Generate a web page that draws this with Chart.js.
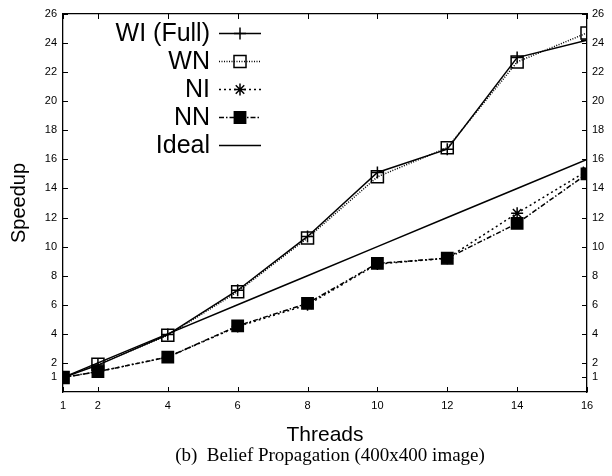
<!DOCTYPE html>
<html>
<head>
<meta charset="utf-8">
<script src="https://cdn.jsdelivr.net/npm/chart.js@4/dist/chart.umd.min.js"></script>
<style>
  html, body { margin: 0; padding: 0; background: #fff; }
  #wrap { position: relative; width: 612px; height: 476px; }
  #caption {
    position: absolute; left: 24px; width: 612px; top: 444px; white-space: pre;
    text-align: center; font-family: 'Liberation Serif', serif; font-size: 19px; color: #000;
  }
</style>
</head>
<body>
<div id="wrap">
  <canvas id="speedupChart"></canvas>
  <div id="caption">(b)  Belief Propagation (400x400 image)</div>
</div>
<script>
// thread counts and measured speedups
const threads = [1, 2, 4, 6, 8, 10, 12, 14, 16];
const wiFull = [1, 1.85, 3.95, 7.0, 10.7, 15.1, 16.7, 23.0, 24.2];
const wn = [1, 1.9, 3.9, 6.9, 10.6, 14.8, 16.8, 22.7, 24.7];
const ni = [1, 1.4, 2.4, 4.5, 6.0, 8.8, 9.2, 12.3, 15.2];
const nn = [1, 1.4, 2.4, 4.55, 6.1, 8.85, 9.2, 11.6, 15.0];
const ideal = [1, 2, 4, 6, 8, 10, 12, 14, 16];

const xTicks = [1, 2, 4, 6, 8, 10, 12, 14, 16];
const yTicks = [1, 2, 4, 6, 8, 10, 12, 14, 16, 18, 20, 22, 24, 26];

const FONT = "'Liberation Sans', Arial, sans-serif";

const toPoints = (ys) => threads.map((t, i) => ({ x: t, y: ys[i] }));

// inward tick marks on all four sides
const innerTicks = {
  id: 'innerTicks',
  afterDraw(chart) {
    const { ctx, chartArea: a, scales } = chart;
    const len = 5;
    ctx.save();
    ctx.strokeStyle = '#000';
    ctx.lineWidth = 1;
    ctx.beginPath();
    xTicks.forEach((v) => {
      const px = Math.round(scales.x.getPixelForValue(v)) + 0.5;
      ctx.moveTo(px, a.bottom); ctx.lineTo(px, a.bottom - len);
      ctx.moveTo(px, a.top); ctx.lineTo(px, a.top + len);
    });
    yTicks.forEach((v) => {
      const py = Math.round(scales.y.getPixelForValue(v)) + 0.5;
      ctx.moveTo(a.left, py); ctx.lineTo(a.left + len, py);
      ctx.moveTo(a.right, py); ctx.lineTo(a.right - len, py);
    });
    ctx.stroke();
    ctx.restore();
  }
};

// legend: right-aligned labels with line sample and marker
const sideLegend = {
  id: 'sideLegend',
  afterDraw(chart) {
    const { ctx } = chart;
    const textRight = 210, x0 = 219, x1 = 261, top = 33, step = 28;
    ctx.save();
    ctx.font = '25px ' + FONT;
    ctx.textAlign = 'right';
    ctx.textBaseline = 'middle';
    chart.data.datasets.forEach((ds, i) => {
      const y = top + i * step;
      ctx.fillStyle = '#000';
      ctx.fillText(ds.label, textRight, y + 1);
      ctx.strokeStyle = '#000';
      ctx.lineWidth = ds.borderWidth;
      ctx.setLineDash(ds.borderDash || []);
      ctx.beginPath();
      ctx.moveTo(x0, y + 0.5); ctx.lineTo(x1, y + 0.5);
      ctx.stroke();
      ctx.setLineDash([]);
      if (ds.pointRadius > 0) {
        ctx.fillStyle = ds.pointBackgroundColor;
        ctx.strokeStyle = '#000';
        ctx.lineWidth = ds.pointBorderWidth;
        Chart.helpers.drawPoint(ctx, {
          pointStyle: ds.pointStyle,
          radius: ds.pointRadius,
          rotation: 0,
          borderWidth: ds.pointBorderWidth
        }, (x0 + x1) / 2, y + 0.5);
      }
    });
    ctx.restore();
  }
};

const base = {
  borderColor: '#000',
  borderWidth: 1.5,
  pointBorderColor: '#000',
  pointBorderWidth: 1.5,
  tension: 0,
  fill: false
};

new Chart(document.getElementById('speedupChart'), {
  type: 'line',
  data: {
    datasets: [
      { ...base, label: 'WI (Full)', data: toPoints(wiFull), pointStyle: 'cross', pointRadius: 6,
        pointBackgroundColor: 'rgba(0,0,0,0)' },
      { ...base, label: 'WN', data: toPoints(wn), borderDash: [1, 1.5], pointStyle: 'rect', pointRadius: 8.5,
        pointBackgroundColor: 'rgba(0,0,0,0)' },
      { ...base, label: 'NI', data: toPoints(ni), borderDash: [2, 3], pointStyle: 'star', pointRadius: 6,
        pointBackgroundColor: 'rgba(0,0,0,0)' },
      { ...base, label: 'NN', data: toPoints(nn), borderDash: [5, 2, 1.5, 2], pointStyle: 'rect', pointRadius: 8,
        pointBackgroundColor: '#000' },
      { ...base, label: 'Ideal', data: toPoints(ideal), pointRadius: 0,
        pointBackgroundColor: 'rgba(0,0,0,0)' }
    ]
  },
  options: {
    responsive: true,
    maintainAspectRatio: false,
    animation: false,
    layout: { padding: { left: 0, right: 0, top: 0, bottom: 28.4 } },
    plugins: { legend: { display: false }, tooltip: { enabled: false } },
    scales: {
      x: {
        type: 'linear', position: 'bottom', min: 1, max: 16,
        afterBuildTicks: (s) => { s.ticks = xTicks.map((v) => ({ value: v })); },
        afterFit: (s) => { s.height = 55.6; },
        grid: { display: false, drawTicks: false },
        border: { display: true, color: '#000', width: 1.3 },
        ticks: { color: '#000', padding: 7, font: { family: FONT, size: 11 }, maxRotation: 0, autoSkip: false },
        title: { display: true, text: 'Threads', color: '#000', padding: 0, font: { family: FONT, size: 21 } }
      },
      x2: {
        type: 'linear', position: 'top', min: 1, max: 16,
        afterFit: (s) => { s.height = 14; },
        grid: { display: false, drawTicks: false },
        border: { display: true, color: '#000', width: 1.3 },
        ticks: { display: false }
      },
      y: {
        type: 'linear', position: 'left', min: 0, max: 26,
        afterBuildTicks: (s) => { s.ticks = yTicks.map((v) => ({ value: v })); },
        afterFit: (s) => { s.width = 63; },
        grid: { display: false, drawTicks: false },
        border: { display: true, color: '#000', width: 1.3 },
        ticks: { color: '#000', padding: 6, font: { family: FONT, size: 11 }, autoSkip: false },
        title: { display: true, text: 'Speedup', color: '#000', padding: { top: 7, bottom: 0 },
          font: { family: FONT, size: 20 } }
      },
      y2: {
        type: 'linear', position: 'right', min: 0, max: 26,
        afterBuildTicks: (s) => { s.ticks = yTicks.map((v) => ({ value: v })); },
        afterFit: (s) => { s.width = 25; },
        grid: { display: false, drawTicks: false },
        border: { display: true, color: '#000', width: 1.3 },
        ticks: { color: '#000', padding: 5, font: { family: FONT, size: 11 }, autoSkip: false }
      }
    }
  },
  plugins: [innerTicks, sideLegend]
});
</script>
</body>
</html>
